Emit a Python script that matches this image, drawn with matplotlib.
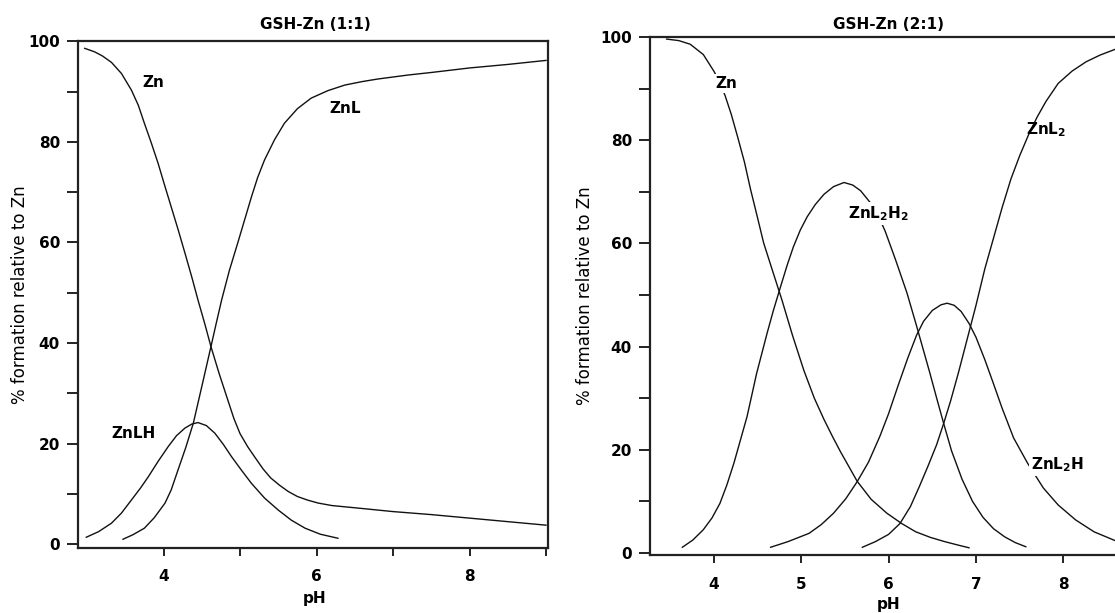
import matplotlib
matplotlib.use("Agg")
import matplotlib.pyplot as plt
from matplotlib.ticker import FixedLocator

plt.rcParams['font.family'] = ['DejaVu Sans']

# ---------------- data: GSH-Zn (1:1) ----------------
zn_11_ph = [2.97, 3.10, 3.20, 3.32, 3.45, 3.58, 3.67, 3.75, 3.84, 3.93, 4.01, 4.10, 4.19, 4.28, 4.37,
            4.45, 4.54, 4.62, 4.73, 4.84, 4.92, 5.00, 5.10, 5.19, 5.30, 5.40, 5.52, 5.63, 5.75, 5.88,
            6.02, 6.20, 6.54, 7.0, 7.5, 8.0, 8.5, 9.0]
zn_11 = [98.6, 97.9, 97.1, 95.8, 93.6, 90.3, 87.3, 83.7, 79.8, 75.7, 71.6, 67.1, 62.6, 57.9, 53.1,
         48.6, 43.8, 39.3, 33.8, 28.7, 25.0, 22.0, 19.4, 17.4, 15.0, 13.2, 11.7, 10.5, 9.5, 8.8,
         8.2, 7.7, 7.2, 6.5, 5.9, 5.2, 4.5, 3.8]

znl_11_ph = [3.47, 3.60, 3.75, 3.88, 4.02, 4.10, 4.19, 4.29, 4.39, 4.51, 4.62, 4.69, 4.76, 4.86, 4.97,
             5.06, 5.15, 5.23, 5.32, 5.45, 5.58, 5.75, 5.93, 6.15, 6.37, 6.60, 6.80, 7.20, 7.50, 8.0,
             8.5, 9.0]
znl_11 = [1.0, 1.9, 3.2, 5.3, 8.2, 10.8, 14.8, 19.2, 24.1, 32.0, 39.3, 44.0, 48.6, 54.4, 59.9,
          64.5, 69.1, 72.9, 76.4, 80.4, 83.7, 86.6, 88.7, 90.2, 91.3, 92.0, 92.5, 93.3, 93.8, 94.7,
          95.4, 96.2]

znlh_11_ph = [2.99, 3.15, 3.32, 3.45, 3.58, 3.70, 3.80, 3.93, 4.06, 4.17, 4.28, 4.37, 4.45, 4.56,
              4.67, 4.78, 4.89, 5.02, 5.15, 5.32, 5.50, 5.67, 5.85, 6.05, 6.28]
znlh_11 = [1.4, 2.5, 4.2, 6.2, 8.8, 11.2, 13.4, 16.5, 19.4, 21.6, 23.1, 23.9, 24.2, 23.6,
           22.1, 19.9, 17.4, 14.7, 12.1, 9.2, 6.8, 4.8, 3.2, 2.0, 1.2]

# ---------------- data: GSH-Zn (2:1) ----------------
zn_21_ph = [3.46, 3.60, 3.73, 3.88, 4.00, 4.07, 4.13, 4.20, 4.27, 4.35, 4.42, 4.50, 4.57, 4.67, 4.78,
            4.90, 5.03, 5.15, 5.26, 5.36, 5.45, 5.55, 5.64, 5.80, 5.98, 6.15, 6.31, 6.48, 6.64, 6.80,
            6.92]
zn_21 = [99.6, 99.3, 98.6, 96.6, 93.4, 91.2, 88.6, 85.0, 80.8, 75.8, 70.5, 65.0, 60.1, 54.8, 49.0,
         42.2, 35.4, 30.0, 25.9, 22.5, 19.6, 16.6, 13.9, 10.4, 7.7, 5.7, 4.1, 3.0, 2.2, 1.5,
         1.0]

znl2h2_21_ph = [3.64, 3.76, 3.88, 3.98, 4.07, 4.15, 4.23, 4.30, 4.38, 4.49, 4.61, 4.68, 4.76, 4.84,
                4.91, 4.99, 5.07, 5.16, 5.26, 5.37, 5.49, 5.59, 5.68, 5.79, 5.88, 5.96, 6.08, 6.21,
                6.32, 6.40, 6.47, 6.55, 6.63, 6.72, 6.84, 6.96, 7.08, 7.20, 7.33, 7.45, 7.57]
znl2h2_21 = [1.1, 2.5, 4.5, 6.8, 9.6, 13.2, 17.4, 21.6, 26.4, 34.8, 42.6, 46.9, 51.4, 55.8,
             59.3, 62.6, 65.2, 67.5, 69.5, 71.0, 71.8, 71.3, 70.2, 67.9, 65.4, 62.4, 56.8, 50.4,
             44.0, 39.2, 35.0, 30.0, 25.1, 19.8, 14.3, 10.0, 6.9, 4.7, 3.1, 2.0, 1.2]

znl2h_21_ph = [4.65, 4.85, 5.09, 5.23, 5.37, 5.51, 5.64, 5.77, 5.90, 6.00, 6.11, 6.22, 6.32, 6.40,
               6.50, 6.60, 6.67, 6.75, 6.83, 6.92, 7.00, 7.10, 7.20, 7.30, 7.43, 7.59, 7.68, 7.77,
               7.94, 8.14, 8.35, 8.59, 8.80, 9.00]
znl2h_21 = [1.1, 2.2, 3.8, 5.5, 7.7, 10.5, 13.8, 17.6, 22.6, 27.0, 32.5, 37.8, 42.2, 44.9,
            47.0, 48.1, 48.4, 48.0, 46.8, 44.5, 41.8, 37.5, 32.8, 28.0, 22.3, 17.4, 15.0, 12.6,
            9.3, 6.4, 4.1, 2.4, 1.5, 0.9]

znl2_21_ph = [5.70, 5.85, 6.00, 6.13, 6.25, 6.35, 6.45, 6.55, 6.63, 6.71, 6.80, 6.90, 7.00, 7.10,
              7.20, 7.30, 7.40, 7.50, 7.60, 7.70, 7.80, 7.94, 8.10, 8.26, 8.42, 8.59, 8.80, 9.00]
znl2_21 = [1.1, 2.2, 3.6, 5.7, 9.0, 12.8, 16.8, 21.0, 25.1, 29.5, 35.0, 41.5, 48.0, 55.0,
           61.0, 67.0, 72.5, 77.0, 81.0, 84.5, 87.5, 91.0, 93.4, 95.2, 96.5, 97.6, 98.3, 98.8]

titles = ["GSH-Zn (1:1)", "GSH-Zn (2:1)"]
ylabel = "% formation relative to Zn"
xlabel = "pH"

W, H = 1115, 613
fig = plt.figure(figsize=(W / 100, H / 100), dpi=100)


def axes_px(l, t, r, b):
    return fig.add_axes([l / W, 1 - b / H, (r - l) / W, (b - t) / H])


ax1 = axes_px(78, 41.3, 548, 548)
ax2 = axes_px(650, 37, 1150.8, 555)

ax1.set_xlim(2.882, 9.026)
ax1.set_ylim(-0.74, 100)
ax2.set_xlim(3.27, 9.0)
ax2.set_ylim(-0.4, 100)

lc = '#111111'
lw = 1.0
ax1.plot(zn_11_ph, zn_11, color=lc, lw=lw)
ax1.plot(znl_11_ph, znl_11, color=lc, lw=lw)
ax1.plot(znlh_11_ph, znlh_11, color=lc, lw=lw)

ax2.plot(zn_21_ph, zn_21, color=lc, lw=lw)
ax2.plot(znl2h2_21_ph, znl2h2_21, color=lc, lw=lw)
ax2.plot(znl2h_21_ph, znl2h_21, color=lc, lw=lw)
ax2.plot(znl2_21_ph, znl2_21, color=lc, lw=lw)

lab = dict(fontsize=11, fontweight='bold', color='black', zorder=5)
box = dict(facecolor='white', edgecolor='none', pad=1.5)
ax1.text(3.87, 91.8, "Zn", ha='center', va='center', **lab)
ax1.text(6.17, 86.6, "ZnL", ha='left', va='center', **lab)
ax1.text(3.61, 22.0, "ZnLH", ha='center', va='center', **lab)

ax2.text(4.14, 91.0, "Zn", ha='center', va='center', bbox=box, **lab)
ax2.text(5.88, 65.7, "ZnL$_\\mathbf{2}$H$_\\mathbf{2}$", ha='center', va='center', bbox=box, **lab)
ax2.text(7.57, 82.0, "ZnL$_\\mathbf{2}$", ha='left', va='center', **lab)
ax2.text(7.63, 17.1, "ZnL$_\\mathbf{2}$H", ha='left', va='center', bbox=box, **lab)

for ax, title, tx, ty, ylx, xly, xpad in [(ax1, titles[0], 0.504, 1.034, -0.104, -0.085, 9),
                                            (ax2, titles[1], 0.477, 1.025, -0.112, -0.081, 10)]:
    ax.text(tx, ty, title, transform=ax.transAxes, ha='center', va='center',
            fontsize=11, fontweight='bold')
    ax.set_ylabel(ylabel, fontsize=12)
    ax.yaxis.set_label_coords(ylx, 0.5)
    ax.set_xlabel(xlabel, fontsize=11, fontweight='bold')
    ax.xaxis.set_label_coords(tx, xly)
    for s in ax.spines.values():
        s.set_linewidth(1.6)
        s.set_color('#222222')
    ax.yaxis.set_major_locator(FixedLocator([0, 20, 40, 60, 80, 100]))
    ax.yaxis.set_minor_locator(FixedLocator([10, 30, 50, 70, 90]))
    ax.tick_params(axis='both', which='both', direction='out', width=1.4, colors='#222222',
                   labelcolor='black')
    ax.tick_params(axis='y', which='both', length=8, pad=5)
    ax.tick_params(axis='x', which='both', length=6, pad=xpad)

ax1.xaxis.set_major_locator(FixedLocator([4, 6, 8]))
ax1.xaxis.set_minor_locator(FixedLocator([5, 7, 9]))
ax2.xaxis.set_major_locator(FixedLocator([4, 5, 6, 7, 8]))
ax2.xaxis.set_minor_locator(FixedLocator([]))
for ax in (ax1, ax2):
    for t in ax.get_xticklabels() + ax.get_yticklabels():
        t.set_fontweight('bold')
        t.set_fontsize(11)

fig.savefig("out.png", dpi=100, facecolor='white')
